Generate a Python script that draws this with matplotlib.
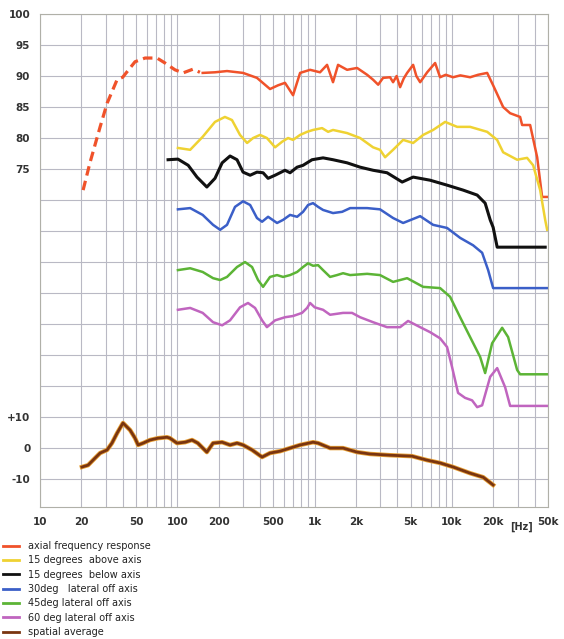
import numpy as np
import matplotlib
matplotlib.use("Agg")
import matplotlib.pyplot as plt
from matplotlib.lines import Line2D
import matplotlib.patheffects as pe

# axial response, dashed low-frequency part (Hz, dB)
axial_dash_f = [20.6, 23.1, 27.4, 30.8, 36.4, 40, 49.2, 58.2, 71.1, 81.3, 96.1, 110, 130, 146]
axial_dash_db = [71.6, 76.0, 81.8, 85.6, 89.4, 89.8, 92.3, 92.9, 92.9, 92.1, 91.0, 90.5, 91.1, 90.6]

# axial response, solid part
axial_f = [153, 188, 230, 301, 380, 473, 541, 608, 696, 783, 926, 1094, 1231, 1360, 1480,
           1722, 2036, 2409, 2663, 2900, 3148, 3540, 3724, 3950, 4189, 4450, 4712, 5211, 5500,
           5862, 6594, 7535, 8190, 9000, 10180, 11500, 13550, 15500, 18030, 19930, 23570,
           26500, 31330, 32400, 37060, 41690, 45300, 49300]
axial_db = [90.5, 90.6, 90.8, 90.5, 89.7, 87.9, 88.5, 88.9, 86.9, 90.5, 91.0, 90.6, 91.8,
            89.0, 91.8, 91.0, 91.3, 90.2, 89.4, 88.6, 89.7, 89.8, 89.0, 90.0, 88.2, 89.6,
            90.5, 91.8, 90.0, 89.0, 90.6, 92.1, 89.8, 90.2, 89.8, 90.1, 89.8, 90.2, 90.5,
            88.5, 85.0, 84.0, 83.4, 82.1, 82.1, 76.9, 70.5, 70.5]

above15_f = [101, 124, 153, 188, 222, 250, 286, 322, 356, 400, 449, 515, 579, 640, 696, 783,
             881, 973, 1132, 1253, 1360, 1722, 2143, 2663, 2992, 3256, 3724, 4407, 5211, 6166,
             7284, 8912, 10900, 13550, 18030, 21300, 23570, 29800, 35200, 38990, 43850, 47700,
             49300]
above15_db = [78.4, 78.1, 80.2, 82.6, 83.4, 82.9, 80.5, 79.2, 80.0, 80.5, 80.0, 78.5, 79.4,
              80.0, 79.7, 80.5, 81.0, 81.3, 81.6, 81.0, 81.3, 80.8, 80.0, 78.5, 78.1, 76.9,
              78.1, 79.7, 79.2, 80.5, 81.3, 82.6, 81.8, 81.8, 81.0, 79.7, 77.7, 76.5, 76.8,
              75.6, 71.6, 66.8, 65.2]

below15_f = [85.6, 101, 120, 139, 164, 188, 212, 242, 272, 301, 339, 380, 421, 458, 515, 608,
             662, 745, 823, 957, 1151, 1360, 1722, 2143, 2663, 3365, 4336, 5211, 6918, 9204,
             12050, 15250, 17430, 18970, 19930, 21330, 47700]
below15_db = [76.5, 76.6, 75.6, 73.7, 72.1, 73.5, 76.0, 77.1, 76.5, 74.5, 74.0, 74.5, 74.4,
              73.5, 74.0, 74.8, 74.4, 75.3, 75.6, 76.5, 76.8, 76.5, 76.0, 75.3, 74.8, 74.4,
              72.9, 73.7, 73.2, 72.4, 71.6, 70.8, 69.5, 66.8, 65.6, 62.4, 62.4]

lat30_f = [101, 124, 153, 182, 205, 230, 263, 301, 339, 380, 414, 458, 532, 589, 662, 745,
           823, 895, 973, 1059, 1151, 1360, 1585, 1813, 2409, 2992, 3724, 4407, 5862, 7284,
           9204, 11460, 14250, 16570, 18330, 19930, 49300]
lat30_db = [68.5, 68.7, 67.6, 66.0, 65.2, 66.0, 68.9, 69.8, 69.2, 67.1, 66.5, 67.3, 66.3,
            66.8, 67.6, 67.3, 68.1, 69.2, 69.5, 68.9, 68.4, 67.9, 68.1, 68.7, 68.7, 68.5,
            67.1, 66.3, 67.4, 66.0, 65.5, 63.9, 62.7, 61.5, 58.7, 55.8, 55.8]

lat45_f = [101, 124, 153, 182, 205, 230, 272, 311, 350, 387, 421, 473, 532, 589, 662, 745,
           823, 895, 973, 1059, 1151, 1295, 1455, 1610, 1813, 2409, 2992, 3724, 4712, 6166,
           8190, 9685, 11460, 13550, 16030, 17430, 19590, 23180, 25620, 29800, 31330, 49300]
lat45_db = [58.7, 59.0, 58.4, 57.4, 57.1, 57.6, 59.2, 60.0, 59.2, 57.1, 56.0, 57.6, 57.9,
            57.6, 57.9, 58.4, 59.2, 59.8, 59.4, 59.5, 58.7, 57.6, 57.9, 58.2, 57.9, 58.1,
            57.9, 56.8, 57.4, 56.0, 55.8, 54.4, 51.1, 47.9, 44.7, 42.1, 46.9, 49.4, 47.9,
            42.6, 41.9, 41.9]

lat60_f = [101, 124, 153, 182, 212, 242, 286, 327, 368, 414, 449, 515, 608, 696, 809, 881,
           926, 1000, 1151, 1295, 1610, 1871, 2143, 2663, 3365, 4189, 4786, 5862, 6918, 8190,
           9204, 10000, 11070, 12450, 14000, 15250, 16570, 18970, 21330, 24380, 26500, 49300]
lat60_db = [52.3, 52.6, 51.8, 50.3, 49.8, 50.6, 52.7, 53.4, 52.6, 50.6, 49.5, 50.6, 51.1,
            51.3, 51.8, 52.6, 53.4, 52.7, 52.3, 51.5, 51.8, 51.8, 51.1, 50.3, 49.5, 49.5,
            50.5, 49.5, 48.7, 47.7, 46.3, 43.1, 38.9, 38.1, 37.7, 36.6, 36.9, 41.5, 42.9,
            39.8, 36.8, 36.8]

# spatial average, relative dB (own scale: 10 dB per grid step)
spatial_f = [20.2, 22.4, 25.2, 27.4, 30.8, 33.4, 36.4, 40.2, 45.3, 49.2, 51.8, 56.3, 63.2,
             72.3, 84.1, 88.4, 99.4, 114, 128, 141, 164, 182, 212, 242, 272, 301, 350, 414,
             473, 560, 662, 783, 973, 1059, 1295, 1610, 2036, 2528, 3540, 5117, 6594, 8190,
             10190, 13550, 16870, 19930]
spatial_db = [-6.1, -5.5, -3.2, -1.6, -0.6, 1.6, 4.8, 8.1, 5.8, 3.2, 1.0, 1.6, 2.6, 3.2,
              3.5, 3.2, 1.6, 1.9, 2.6, 1.6, -1.3, 1.6, 1.9, 1.0, 1.6, 1.0, -0.6, -2.9, -1.6,
              -1.0, 0.0, 1.0, 1.9, 1.6, 0.0, 0.0, -1.3, -1.9, -2.3, -2.6, -3.9, -4.8, -6.1,
              -8.1, -9.4, -11.9]

legend_labels = ["axial frequency response", "15 degrees  above axis", "15 degrees  below axis",
                 "30deg   lateral off axis", "45deg lateral off axis", "60 deg lateral off axis",
                 "spatial average"]
colors = ["#f0522a", "#efd232", "#111111", "#3b5fc8", "#5cb436", "#c065bf", "#7a3510"]

x_ticks = [10, 20, 50, 100, 200, 500, 1000, 2000, 5000, 10000, 20000, 50000]
x_labels = ["10", "20", "50", "100", "200", "500", "1k", "2k", "5k", "10k", "20k", "50k"]
y_ticks = [25, 30, 35, 40, 45, 50, 55, 60, 65, 70, 75, 80, 85, 90, 95, 100]
y_labels = ["-10", "0", "+10", "", "", "", "", "", "", "", "75", "80", "85", "90", "95", "100"]

fig = plt.figure(figsize=(5.64, 6.39), dpi=100)
ax = fig.add_axes([40 / 564, 1 - 507 / 639, 508 / 564, 493 / 639])
ax.set_xscale("log")
ax.set_xlim(10, 50000)
ax.set_ylim(20.5, 100)

ax.plot(axial_dash_f, axial_dash_db, color=colors[0], lw=2.3, ls=(0, (3.0, 1.7)))
ax.plot(axial_f, axial_db, color=colors[0], lw=1.8)
ax.plot(above15_f, above15_db, color=colors[1], lw=1.8)
ax.plot(below15_f, below15_db, color=colors[2], lw=2.2)
ax.plot(lat30_f, lat30_db, color=colors[3], lw=1.8)
ax.plot(lat45_f, lat45_db, color=colors[4], lw=1.8)
ax.plot(lat60_f, lat60_db, color=colors[5], lw=1.8)

ax2 = ax.twinx()
ax2.set_ylim(-19, 140)
ax2.plot(spatial_f, spatial_db, color=colors[6], lw=2.0,
         path_effects=[pe.Stroke(linewidth=3.2, foreground="#e8a035"), pe.Normal()])
ax2.set_yticks([])
for s in ax2.spines.values():
    s.set_visible(False)

ax.set_xticks(x_ticks)
ax.set_xticklabels(x_labels)
ax.xaxis.set_minor_locator(matplotlib.ticker.LogLocator(base=10, subs=np.arange(2, 10)))
ax.xaxis.set_minor_formatter(matplotlib.ticker.NullFormatter())
ax.set_yticks(y_ticks)
ax.set_yticklabels(y_labels)
ax.tick_params(which="both", length=0)
ax.tick_params(axis="x", pad=7, labelsize=7.5, labelcolor="#333333")
ax.tick_params(axis="y", pad=7, labelsize=7.5, labelcolor="#333333")
for t in ax.get_xticklabels() + ax.get_yticklabels():
    t.set_fontweight("bold")

ax.grid(True, which="both", axis="x", color="#b9b9c4", lw=0.8)
ax.grid(True, which="major", axis="y", color="#b9b9c4", lw=0.8)
ax.set_axisbelow(True)
for s in ax.spines.values():
    s.set_color("#b0b0a8")

fig.text(510 / 564, 1 - 527 / 639, "[Hz]", fontsize=7, fontweight="bold", color="#333333",
         va="center")

handles = [Line2D([], [], color=c, lw=2) for c in colors]
fig.legend(handles, legend_labels, loc="upper left", bbox_to_anchor=(3 / 564, 1 - 541 / 639),
           frameon=False, fontsize=7, handlelength=1.6, handletextpad=1.0, labelspacing=0.45,
           borderpad=0, borderaxespad=0, labelcolor="#222222")

fig.savefig("out.png", dpi=100)
